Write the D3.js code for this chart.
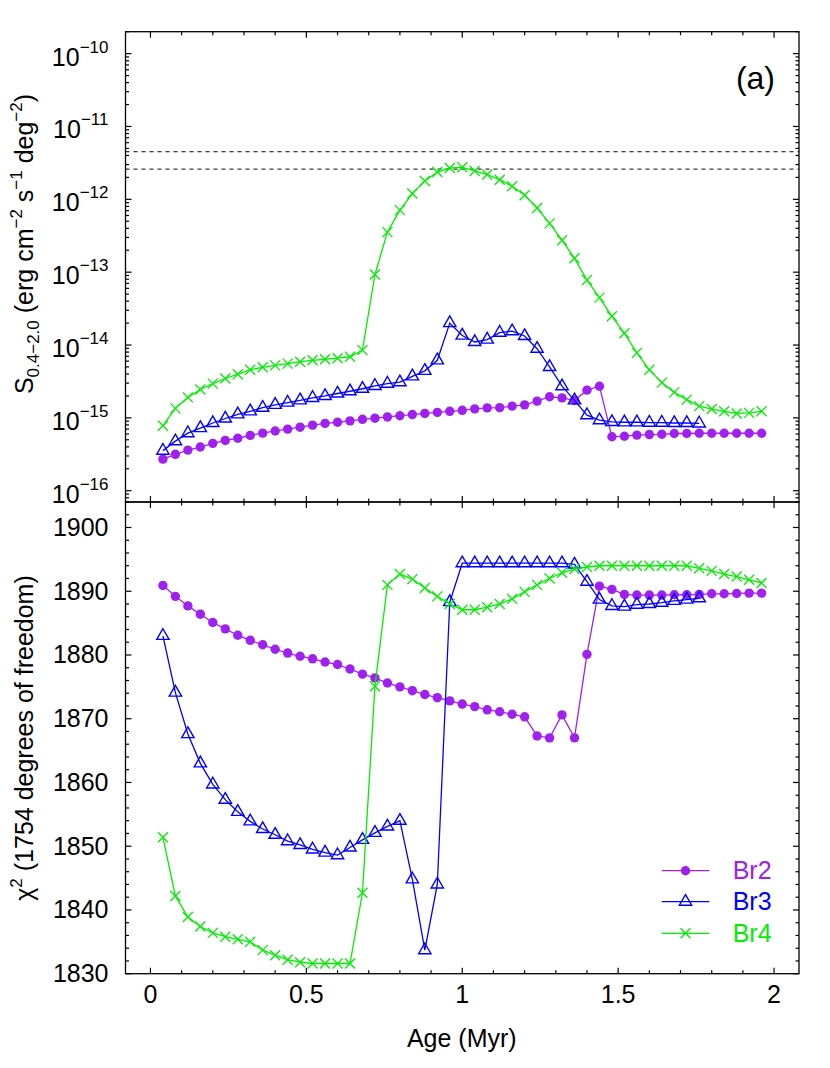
<!DOCTYPE html>
<html>
<head>
<meta charset="utf-8">
<script src="https://cdn.jsdelivr.net/npm/d3@7"></script>
<style>
  body { margin: 0; background: #fff; }
  text { font-family: "Liberation Sans", Arial, sans-serif; }
</style>
</head>
<body>
<div id="chart"></div>
<script>
// ages in Myr (one model every 0.04 Myr)
var ages = [0.04, 0.08, 0.12, 0.16, 0.20, 0.24, 0.28, 0.32, 0.36, 0.40,
            0.44, 0.48, 0.52, 0.56, 0.60, 0.64, 0.68, 0.72, 0.76, 0.80,
            0.84, 0.88, 0.92, 0.96, 1.00, 1.04, 1.08, 1.12, 1.16, 1.20,
            1.24, 1.28, 1.32, 1.36, 1.40, 1.44, 1.48, 1.52, 1.56, 1.60,
            1.64, 1.68, 1.72, 1.76, 1.80, 1.84, 1.88, 1.92, 1.96];

// panel (a): surface brightness S(0.4-2.0 keV)
var br2Flux = [2.71e-16, 3.16e-16, 3.61e-16, 3.98e-16, 4.47e-16, 4.90e-16, 5.25e-16, 5.75e-16, 6.17e-16, 6.61e-16,
               7.0e-16, 7.45e-16, 7.94e-16, 8.4e-16, 8.7e-16, 9.1e-16, 9.55e-16, 9.9e-16, 1.03e-15, 1.07e-15,
               1.11e-15, 1.15e-15, 1.19e-15, 1.23e-15, 1.27e-15, 1.33e-15, 1.37e-15, 1.38e-15, 1.45e-15, 1.51e-15,
               1.70e-15, 1.95e-15, 1.88e-15, 1.74e-15, 2.40e-15, 2.72e-15, 5.5e-16, 5.6e-16, 5.8e-16, 5.9e-16,
               5.95e-16, 6.1e-16, 6.1e-16, 6.15e-16, 6.15e-16, 6.15e-16, 6.15e-16, 6.15e-16, 6.15e-16];
var br3Flux = [3.55e-16, 4.79e-16, 6.17e-16, 7.24e-16, 8.5e-16, 9.8e-16, 1.12e-15, 1.23e-15, 1.38e-15, 1.51e-15,
               1.62e-15, 1.74e-15, 1.88e-15, 2.0e-15, 2.16e-15, 2.32e-15, 2.51e-15, 2.75e-15, 2.95e-15, 3.09e-15,
               3.72e-15, 4.42e-15, 6.17e-15, 2.0e-14, 1.35e-14, 1.10e-14, 1.19e-14, 1.48e-14, 1.55e-14, 1.33e-14,
               8.9e-15, 5.0e-15, 2.72e-15, 1.74e-15, 1.09e-15, 9.3e-16, 8.8e-16, 8.7e-16, 8.7e-16, 8.6e-16,
               8.6e-16, 8.5e-16, 8.5e-16, 8.4e-16];
var br4Flux = [7.8e-16, 1.35e-15, 1.91e-15, 2.45e-15, 2.95e-15, 3.47e-15, 3.98e-15, 4.57e-15, 4.95e-15, 5.25e-15,
               5.56e-15, 5.9e-15, 6.17e-15, 6.38e-15, 6.6e-15, 6.9e-15, 8.5e-15, 9.3e-14, 3.55e-13, 7.1e-13,
               1.2e-12, 1.78e-12, 2.37e-12, 2.69e-12, 2.75e-12, 2.45e-12, 2.19e-12, 1.86e-12, 1.51e-12, 1.14e-12,
               7.6e-13, 4.68e-13, 2.75e-13, 1.55e-13, 7.8e-14, 4.47e-14, 2.48e-14, 1.45e-14, 7.8e-15, 4.57e-15,
               3.05e-15, 2.24e-15, 1.78e-15, 1.45e-15, 1.32e-15, 1.23e-15, 1.15e-15, 1.17e-15, 1.23e-15];
var fluxLimits = [4.5e-12, 2.6e-12];

// lower panel: chi^2 for 1754 degrees of freedom
var br2Chi = [1890.9, 1889.2, 1887.7, 1886.4, 1885.1, 1884.1, 1883.1, 1882.3, 1881.6, 1880.9,
              1880.3, 1879.8, 1879.4, 1878.9, 1878.5, 1877.8, 1877.0, 1876.4, 1875.6, 1875.0,
              1874.4, 1873.8, 1873.3, 1872.8, 1872.3, 1871.9, 1871.4, 1871.1, 1870.7, 1870.3,
              1867.3, 1867.0, 1870.6, 1867.0, 1880.1, 1890.8, 1890.3, 1889.5, 1889.4, 1889.4,
              1889.4, 1889.45, 1889.45, 1889.5, 1889.6, 1889.6, 1889.65, 1889.7, 1889.7];
var br3Chi = [1883.0, 1874.1, 1867.6, 1863.0, 1859.7, 1857.3, 1855.4, 1853.9, 1852.7, 1851.8,
              1850.8, 1850.2, 1849.5, 1849.0, 1848.6, 1849.8, 1851.0, 1852.1, 1853.1, 1854.0,
              1844.8, 1833.7, 1844.0, 1888.3, 1894.4, 1894.4, 1894.4, 1894.4, 1894.4, 1894.4,
              1894.4, 1894.4, 1894.4, 1894.2, 1891.5, 1888.7, 1887.7, 1887.6, 1887.9, 1888.0,
              1888.2, 1888.5, 1888.7, 1888.9];
var br4Chi = [1851.4, 1842.2, 1838.9, 1837.4, 1836.4, 1835.8, 1835.4, 1835.0, 1833.7, 1832.9,
              1832.2, 1831.8, 1831.6, 1831.6, 1831.6, 1831.6, 1842.7, 1875.1, 1891.0, 1892.7,
              1891.9, 1890.5, 1889.2, 1888.0, 1887.1, 1887.1, 1887.5, 1888.0, 1888.8, 1889.9,
              1891.0, 1892.0, 1892.9, 1893.5, 1893.8, 1894.0, 1894.0, 1894.0, 1894.0, 1894.0,
              1894.0, 1894.0, 1894.0, 1893.6, 1893.2, 1892.7, 1892.3, 1891.8, 1891.3];

var seriesNames = ["Br2", "Br3", "Br4"];
var seriesColors = ["#a020f0", "#0000ff", "#00ee00"];
var xTicks = [0, 0.5, 1, 1.5, 2];
var fluxExponents = [-16, -15, -14, -13, -12, -11, -10];
var chiTicks = [1830, 1840, 1850, 1860, 1870, 1880, 1890, 1900];

var W = 830, H = 1068;
var left = 125.5, right = 799, topY = 31.7, midY = 502, botY = 973.7;

var svg = d3.select("#chart").append("svg")
  .attr("width", W).attr("height", H);

var x = d3.scaleLinear().domain([-0.08, 2.08]).range([left, right]);
var yTop = d3.scaleLog().domain([7e-17, 2e-10]).range([midY, topY]);
var yBot = d3.scaleLinear().domain([1830, 1904]).range([botY, midY]);

// build point lists for each series
function pts(vals) {
  return vals.map(function(v, i) { return { age: ages[i], v: v }; });
}
var fluxSeries = [pts(br2Flux), pts(br3Flux), pts(br4Flux)];
var chiSeries = [pts(br2Chi), pts(br3Chi), pts(br4Chi)];

// ---- ticks (inward, mirrored on all four sides) ----
var xMinor = x.ticks(20).filter(function(t) { return xTicks.indexOf(+t.toFixed(2)) < 0; });

function xTickMarks(yPos, dir) {
  var g = svg.append("g").attr("stroke", "#000").attr("stroke-width", 1.2);
  g.selectAll(".maj").data(xTicks).enter().append("line")
    .attr("x1", function(d) { return x(d); }).attr("x2", function(d) { return x(d); })
    .attr("y1", yPos).attr("y2", yPos + dir * 6);
  g.selectAll(".min").data(xMinor).enter().append("line")
    .attr("x1", function(d) { return x(d); }).attr("x2", function(d) { return x(d); })
    .attr("y1", yPos).attr("y2", yPos + dir * 3.5);
}
xTickMarks(topY, 1);
xTickMarks(midY, -1);
xTickMarks(midY, 1);
xTickMarks(botY, -1);

function yTickMarks(scale, majors, minors) {
  var g = svg.append("g").attr("stroke", "#000").attr("stroke-width", 1.2);
  [[left, 1], [right, -1]].forEach(function(s) {
    g.selectAll(null).data(majors).enter().append("line")
      .attr("x1", s[0]).attr("x2", s[0] + s[1] * 6)
      .attr("y1", function(d) { return scale(d); }).attr("y2", function(d) { return scale(d); });
    g.selectAll(null).data(minors).enter().append("line")
      .attr("x1", s[0]).attr("x2", s[0] + s[1] * 3.5)
      .attr("y1", function(d) { return scale(d); }).attr("y2", function(d) { return scale(d); });
  });
}
var fluxMajors = fluxExponents.map(function(e) { return Math.pow(10, e); });
var fluxMinors = yTop.ticks().filter(function(t) {
  var m = t / Math.pow(10, Math.floor(Math.log10(t) + 1e-9));
  return Math.abs(m - 1) > 1e-6;
});
yTickMarks(yTop, fluxMajors, fluxMinors);
var chiMinors = yBot.ticks(37).filter(function(t) { return t % 10 !== 0; });
yTickMarks(yBot, chiTicks, chiMinors);

// ---- frames ----
svg.append("rect").attr("x", left).attr("y", topY)
  .attr("width", right - left).attr("height", midY - topY)
  .attr("fill", "none").attr("stroke", "#000").attr("stroke-width", 1.3);
svg.append("rect").attr("x", left).attr("y", midY)
  .attr("width", right - left).attr("height", botY - midY)
  .attr("fill", "none").attr("stroke", "#000").attr("stroke-width", 1.3);

// ---- tick labels ----
var labelSize = 25;
svg.append("g").selectAll("text").data(xTicks).enter().append("text")
  .attr("x", function(d) { return x(d); }).attr("y", botY + 29)
  .attr("text-anchor", "middle").style("font-size", labelSize + "px")
  .text(function(d) { return d; });

var fl = svg.append("g").selectAll("text").data(fluxExponents).enter().append("text")
  .attr("x", left - 17).attr("y", function(d) { return yTop(Math.pow(10, d)) + 12; })
  .attr("text-anchor", "end").style("font-size", labelSize + "px");
fl.append("tspan").text("10");
fl.append("tspan").attr("dy", -13).style("font-size", "17px")
  .text(function(d) { return "\u2212" + Math.abs(d); });

svg.append("g").selectAll("text").data(chiTicks).enter().append("text")
  .attr("x", left - 17).attr("y", function(d) { return yBot(d) + 8.5; })
  .attr("text-anchor", "end").style("font-size", labelSize + "px")
  .text(function(d) { return d; });

// ---- axis titles ----
svg.append("text").attr("x", (left + right) / 2 - 0.5).attr("y", 1047)
  .attr("text-anchor", "middle").style("font-size", labelSize + "px")
  .text("Age (Myr)");

var t1 = svg.append("text")
  .attr("transform", "translate(33,244) rotate(-90)")
  .attr("text-anchor", "middle").style("font-size", labelSize + "px");
t1.append("tspan").text("S");
t1.append("tspan").attr("dy", 6).style("font-size", "17px").text("0.4\u22122.0");
t1.append("tspan").attr("dy", -6).text(" (erg cm");
t1.append("tspan").attr("dy", -11).style("font-size", "17px").text("\u22122");
t1.append("tspan").attr("dy", 11).text(" s");
t1.append("tspan").attr("dy", -11).style("font-size", "17px").text("\u22121");
t1.append("tspan").attr("dy", 11).text(" deg");
t1.append("tspan").attr("dy", -11).style("font-size", "17px").text("\u22122");
t1.append("tspan").attr("dy", 11).text(")");

var t2 = svg.append("text")
  .attr("transform", "translate(33,738) rotate(-90)")
  .attr("text-anchor", "middle").style("font-size", labelSize + "px");
t2.append("tspan").text("\u03c7");
t2.append("tspan").attr("dy", -11).style("font-size", "17px").text("2");
t2.append("tspan").attr("dy", 11).text(" (1754 degrees of freedom)");

svg.append("text").attr("x", 775).attr("y", 89)
  .attr("text-anchor", "end").style("font-size", "32px").text("(a)");

// ---- dashed reference lines ----
svg.append("g").selectAll("line").data(fluxLimits).enter().append("line")
  .attr("x1", left).attr("x2", right)
  .attr("y1", function(d) { return yTop(d); }).attr("y2", function(d) { return yTop(d); })
  .attr("stroke", "#000").attr("stroke-width", 1).attr("stroke-dasharray", "4,4");

// ---- markers ----
var triPath = d3.symbol().type(d3.symbolTriangle).size(66)();
var crossPath = "M-5,-5L5,5M-5,5L5,-5";

function drawMarker(sel, i, color) {
  if (i === 0) {
    sel.append("circle").attr("r", 4.7).attr("fill", color);
  } else if (i === 1) {
    sel.append("path").attr("d", triPath).attr("fill", "none")
      .attr("stroke", color).attr("stroke-width", 1.4);
  } else {
    sel.append("path").attr("d", crossPath).attr("fill", "none")
      .attr("stroke", color).attr("stroke-width", 1.3);
  }
}

function drawSeries(data, yScale, i) {
  var color = seriesColors[i];
  var line = d3.line()
    .x(function(d) { return x(d.age); })
    .y(function(d) { return yScale(d.v); });
  svg.append("path").datum(data).attr("d", line)
    .attr("fill", "none").attr("stroke", color).attr("stroke-width", 1.3);
  svg.append("g").selectAll("g").data(data).enter().append("g")
    .attr("transform", function(d) { return "translate(" + x(d.age) + "," + yScale(d.v) + ")"; })
    .each(function() { drawMarker(d3.select(this), i, color); });
}

fluxSeries.forEach(function(s, i) { drawSeries(s, yTop, i); });
chiSeries.forEach(function(s, i) { drawSeries(s, yBot, i); });

// ---- legend ----
var legendY = [870.7, 901.7, 933.3];
var lg = svg.append("g");
seriesNames.forEach(function(name, i) {
  var color = seriesColors[i];
  lg.append("line").attr("x1", 661.7).attr("x2", 709.3)
    .attr("y1", legendY[i]).attr("y2", legendY[i])
    .attr("stroke", color).attr("stroke-width", 1.3);
  var m = lg.append("g").attr("transform", "translate(685.5," + legendY[i] + ")");
  drawMarker(m, i, color);
  lg.append("text").attr("x", 732.7).attr("y", legendY[i] + 8.5)
    .style("font-size", labelSize + "px").attr("fill", color).text(name);
});
</script>
</body>
</html>
